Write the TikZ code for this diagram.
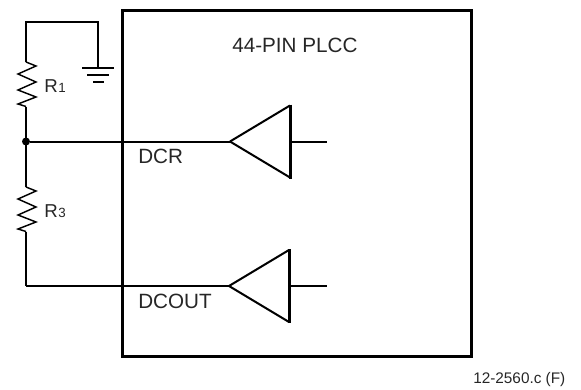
\documentclass[tikz,border=0pt]{standalone}
\usepackage{fontspec}
\setmainfont{Liberation Sans}
\tikzset{
  wire/.style={line width=1.5pt},
  zig/.style={line width=1.1pt},
  pkg/.style={line width=2.25pt},
  lbl/.style={inner sep=0pt,anchor=base west,text=black!85,font=\fontsize{15.5}{18}\selectfont},
  rlbl/.style={lbl,font=\fontsize{14}{16}\selectfont},
  sublbl/.style={inner sep=0pt,anchor=base west,text=black!85,font=\fontsize{10}{12}\selectfont}
}
\begin{document}
\begin{tikzpicture}[x=0.75pt,y=-0.75pt]
  \useasboundingbox (0,0) rectangle (581,389);

  \draw[pkg] (122,10) rectangle (471,356);

  \coordinate (top1) at (26,22);
  \coordinate (top2) at (98,22);
  \coordinate (gnd) at (98,68);
  \coordinate (dcr) at (26,141.5);
  \coordinate (r1a) at (26,62);
  \coordinate (r1b) at (26,106.5);
  \coordinate (r3a) at (26,187);
  \coordinate (r3b) at (26,231.5);
  \coordinate (corner) at (26,286);

  % ground
  \draw[wire] (r1a) -- (top1) -- (top2) -- (gnd);
  \draw[wire] (82,68) -- (114,68);
  \draw[wire] (87,75) -- (109,75);
  \draw[wire] (93,82) -- (104,82);

  % resistors
  \foreach \j in {62,187} {
    \draw[zig] (26,\j) -- (36,\j+4) -- (18,\j+12) -- (36,\j+20) -- (18,\j+28) -- (36,\j+35) -- (18,\j+42) -- (26,\j+44.5);
  }
  \draw[wire] (r1b) -- (dcr);
  \draw[wire] (dcr) -- (r3a);
  \draw[wire] (r3b) -- (corner);
  \node (dot) at (dcr) [circle,fill=black,inner sep=0pt,minimum size=6pt] {};

  % buffers
  \coordinate (in1) at (230,141.5);
  \coordinate (in2) at (229,286);
  \draw[wire] (dot) -- (in1);
  \draw[wire] (corner) -- (in2);
  \foreach \a/\j in {230/141.5,229/286} {
    \draw[wire] (\a,\j) -- (\a+60,\j-36);
    \draw[wire] (\a,\j) -- (\a+60,\j+36);
    \draw[pkg] (\a+60,\j-37) -- (\a+60,\j+37);
    \draw[wire] (\a+60,\j) -- (327,\j);
  }

  \node (title) at (232,52) [lbl] {44-PIN PLCC};
  \node (r1) at (44,92) [rlbl] {R};
  \node (r1sub) at (r1.base east) [sublbl] {1};
  \node (r3) at (44,217) [rlbl] {R};
  \node (r3sub) at (r3.base east) [sublbl] {3};
  \node (dcrlbl) at (138,163) [lbl] {DCR};
  \node (dcoutlbl) at (138,308) [lbl] {DCOUT};
  \node (code) at (473,383) [lbl,font=\fontsize{11.5}{13}\selectfont] {12-2560.c (F)};
\end{tikzpicture}
\end{document}
